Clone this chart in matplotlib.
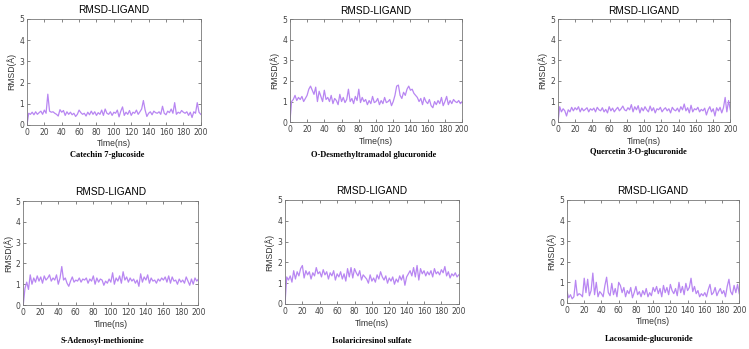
import numpy as np
import matplotlib
matplotlib.use('Agg')
import matplotlib.pyplot as plt

catechin = [0.0, 0.55, 0.5, 0.6, 0.48, 0.62, 0.5, 0.58, 0.65, 0.5, 0.7,
            0.55, 1.45, 0.65, 0.6, 0.62, 0.55, 0.5, 0.42, 0.72, 0.6,
            0.68, 0.45, 0.62, 0.5, 0.6, 0.48, 0.55, 0.4, 0.5, 0.7,
            0.58, 0.5, 0.55, 0.42, 0.6, 0.48, 0.65, 0.5, 0.62, 0.45,
            0.58, 0.5, 0.7, 0.45, 0.75, 0.55, 0.5, 0.62, 0.45, 0.6,
            0.55, 0.7, 0.38, 0.65, 0.85, 0.45, 0.6, 0.5, 0.68, 0.45,
            0.6, 0.55, 0.7, 0.5, 0.62, 0.75, 1.15, 0.7, 0.4, 0.55,
            0.62, 0.48, 0.65, 0.58, 0.55, 0.62, 0.5, 0.88, 0.55, 0.48,
            0.65, 0.58, 0.75, 0.55, 1.05, 0.5, 0.6, 0.55, 0.68, 0.6,
            0.55, 0.62, 0.45, 0.6, 0.35, 0.62, 0.55, 1.05, 0.6, 0.5]
desmethyl = [0.0, 1.0, 1.1, 1.3, 1.05, 1.2, 1.1, 1.25, 1.0, 1.15, 1.3,
             1.6, 1.75, 1.55, 1.35, 1.7, 1.0, 1.5, 1.25, 1.0, 1.55,
             1.1, 1.2, 1.0, 1.3, 0.9, 1.15, 1.05, 0.85, 1.35, 1.0,
             1.2, 0.95, 1.1, 1.6, 1.0, 1.15, 0.9, 1.25, 1.05, 1.6,
             0.95, 1.2, 1.0, 1.1, 0.85, 1.05, 0.9, 1.25, 0.95, 1.0,
             1.15, 0.85, 1.05, 0.9, 1.2, 0.95, 1.0, 1.1, 0.8, 1.0,
             1.3, 1.75, 1.8, 1.3, 1.15, 1.45, 1.3, 1.6, 1.75, 1.55,
             1.6, 1.4, 1.3, 1.2, 1.0, 1.15, 0.85, 1.2, 1.0, 0.9,
             1.1, 0.8, 0.7, 1.0, 0.85, 1.05, 0.9, 1.2, 0.8, 1.0,
             1.25, 0.85, 1.05, 0.9, 1.1, 1.0, 0.95, 1.05, 0.9, 1.0]
quercetin = [0.0, 0.75, 0.5, 0.65, 0.55, 0.3, 0.6, 0.5, 0.72, 0.55, 0.7,
             0.6, 0.75, 0.5, 0.68, 0.55, 0.62, 0.7, 0.5, 0.65, 0.58,
             0.68, 0.5, 0.72, 0.6, 0.55, 0.7, 0.5, 0.62, 0.45, 0.75,
             0.55, 0.68, 0.5, 0.62, 0.72, 0.55, 0.65, 0.78, 0.6, 0.55,
             0.7, 0.6, 0.85, 0.5, 0.75, 0.6, 0.8, 0.45, 0.7, 0.55,
             0.75, 0.6, 0.5, 0.78, 0.55, 0.7, 0.45, 0.65, 0.6, 0.72,
             0.5, 0.62, 0.7, 0.55, 0.65, 0.45, 0.72, 0.6, 0.55, 0.68,
             0.5, 0.75, 0.6, 0.88, 0.55, 0.7, 0.45, 0.82, 0.5, 0.65,
             0.6, 0.72, 0.5, 0.62, 0.55, 0.68, 0.35, 0.6, 0.75, 0.5,
             0.65, 0.3, 0.7, 0.55, 0.72, 0.45, 0.7, 1.2, 0.5, 1.05, 0.6]
adenosyl = [0.0, 0.8, 1.1, 0.75, 1.45, 1.0, 1.3, 1.1, 1.4, 1.15, 1.35,
            1.05, 1.4, 1.2, 1.3, 1.45, 1.15, 1.3, 1.2, 1.45, 1.0,
            1.3, 1.85, 1.2, 1.3, 1.05, 0.9, 1.15, 1.35, 1.1, 1.2,
            1.15, 1.3, 1.1, 1.25, 1.2, 1.3, 1.05, 1.25, 1.15, 1.4,
            1.0, 1.3, 1.1, 1.25, 1.2, 0.95, 1.15, 1.05, 1.25, 1.1,
            1.55, 1.0, 1.3, 1.15, 1.4, 1.05, 1.6, 1.2, 1.35, 1.1,
            1.3, 1.15, 1.25, 1.05, 1.2, 0.9, 1.5, 1.1, 1.35, 1.2,
            1.45, 1.05, 1.3, 1.15, 1.2, 1.05, 1.25, 1.15, 1.3, 1.2,
            1.35, 1.1, 1.4, 1.05, 1.35, 1.15, 1.2, 1.0, 1.25, 1.1,
            1.2, 1.05, 1.35, 1.15, 0.95, 1.25, 1.0, 1.3, 1.15, 1.25]
isolariciresinol = [0.0, 1.3, 1.15, 1.35, 1.05, 1.6, 1.2, 1.55, 1.35, 1.7, 1.85,
                    1.25, 1.6, 1.4, 1.55, 1.2, 1.5, 1.35, 1.75, 1.45, 1.55,
                    1.3, 1.65, 1.4, 1.55, 1.2, 1.5, 1.35, 1.6, 1.15, 1.45,
                    1.3, 1.55, 1.2, 1.45, 1.1, 1.7, 1.3, 1.75, 1.25, 1.7,
                    1.5, 1.35, 1.6, 1.15, 1.4, 1.3, 1.2, 1.0, 1.4, 1.1,
                    1.25, 1.05, 1.4, 1.2, 1.55, 1.3, 1.15, 1.35, 1.0, 1.25,
                    1.1, 1.3, 0.95, 1.2, 1.05, 1.35, 1.15, 1.4, 0.9, 1.3,
                    1.45, 1.6, 1.35, 1.75, 1.3, 1.85, 1.15, 1.7, 1.45, 1.6,
                    1.35, 1.55, 1.4, 1.6, 1.3, 1.7, 1.45, 1.55, 1.4, 1.65,
                    1.5, 1.8, 1.35, 1.55, 1.25, 1.45, 1.35, 1.5, 1.3, 1.4]
lacosamide = [0.55, 0.25, 0.4, 0.2, 0.3, 1.1, 0.35, 0.45, 0.4, 0.3, 1.2,
              0.5, 1.15, 0.35, 0.6, 1.45, 0.4, 1.0, 0.3, 0.55, 0.45,
              0.3, 0.85, 1.25, 0.5, 0.35, 0.95, 0.4, 0.7, 0.3, 1.0,
              0.85, 0.5, 0.75, 0.3, 0.6, 0.45, 0.75, 0.25, 0.5, 0.8,
              0.4, 0.55, 0.3, 0.6, 0.4, 0.7, 0.3, 0.5, 0.35, 0.75,
              0.55, 0.8, 0.45, 0.7, 0.3, 0.85, 0.5, 0.75, 0.4, 0.9,
              0.6, 0.45, 0.7, 0.35, 1.0, 0.5, 0.8, 0.4, 0.95, 0.6,
              0.75, 1.2, 0.55, 0.8, 0.45, 0.6, 0.3, 0.45, 0.35, 0.5,
              0.3, 0.65, 0.9, 0.4, 0.5, 0.75, 0.35, 0.55, 0.7, 0.45,
              0.6, 0.3, 0.8, 1.15, 0.55, 0.4, 0.85, 0.5, 0.9, 0.45]

series = [catechin, desmethyl, quercetin, adenosyl, isolariciresinol, lacosamide]
names = ['Catechin 7-glucoside', 'O-Desmethyltramadol glucuronide',
         'Quercetin 3-O-glucuronide', 'S-Adenosyl-methionine',
         'Isolariciresinol sulfate', 'Lacosamide-glucuronide']
x_ticks = [0, 20, 40, 60, 80, 100, 120, 140, 160, 180, 200]
y_ticks = [0, 1, 2, 3, 4, 5]

boxes = [[0.036, 0.642, 0.232, 0.304],
         [0.387, 0.650, 0.230, 0.295],
         [0.745, 0.650, 0.230, 0.295],
         [0.031, 0.126, 0.234, 0.298],
         [0.3805, 0.129, 0.232, 0.298],
         [0.757, 0.132, 0.230, 0.295]]
name_pos = [(107, 155), (374, 155), (638, 152), (102, 341), (372, 341), (649, 339)]

W, H = 749, 349
fig = plt.figure(figsize=(W / 100, H / 100), dpi=100)

for y, box, name, (nx, ny) in zip(series, boxes, names, name_pos):
    ax = fig.add_axes(box)
    t = np.linspace(0, 200, len(y))
    ax.plot(t, y, color='#b886f2', lw=0.9)
    ax.set_xlim(0, 200)
    ax.set_ylim(0, 5)
    ax.set_xticks(x_ticks)
    ax.set_yticks(y_ticks)
    ax.tick_params(direction='in', top=True, right=True, length=2.5, width=0.5,
                   labelsize=5.5, pad=2, colors='#555555', labelcolor='#444444')
    for s in ax.spines.values():
        s.set_linewidth(0.6)
        s.set_color('#777777')
    ax.set_title('RMSD-LIGAND', fontsize=7.3, family='Liberation Sans', pad=4)
    ax.set_xlabel('Time(ns)', fontsize=6.2, family='Liberation Sans', labelpad=2,
                  color='#333333')
    ax.set_ylabel('RMSD(Å)', fontsize=6.2, family='Liberation Sans', labelpad=2,
                  color='#333333')
    fig.text(nx / W, 1 - ny / H, name, ha='center', va='center',
             fontsize=6, fontweight='bold', family='Liberation Serif')

fig.savefig('out.png', dpi=100)
